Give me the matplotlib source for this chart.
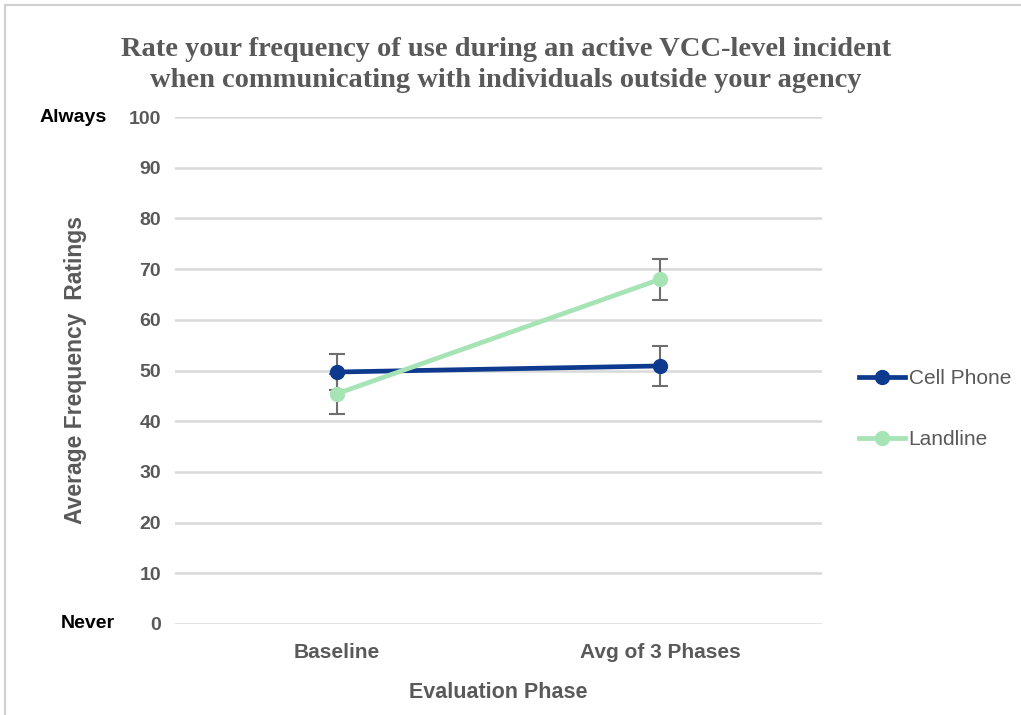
import matplotlib.pyplot as plt
from matplotlib.patches import Rectangle

phases = ['Baseline', 'Avg of 3 Phases']
cell = [49.7, 50.9]
cell_err = [3.6, 4.0]
land = [45.4, 68.0]
land_err = [3.9, 4.0]
yticks = [0, 10, 20, 30, 40, 50, 60, 70, 80, 90, 100]

narrow = ['Liberation Sans Narrow', 'Liberation Sans', 'DejaVu Sans']
gray = '#595959'

fig = plt.figure(figsize=(10.21, 7.15), dpi=100)
ax = fig.add_axes([175 / 1021, 1 - 624 / 715, 647 / 1021, 507 / 715])

x = list(range(len(phases)))
eb1 = ax.errorbar(x, cell, yerr=cell_err, color='#0d3a8e', lw=3.4, marker='o', ms=10,
                  ecolor='#6e6e6e', elinewidth=1.5, capsize=6, capthick=1.5,
                  label='Cell Phone', zorder=3)
eb2 = ax.errorbar(x, land, yerr=land_err, color='#a6e3b5', lw=3.4, marker='o', ms=10,
                  ecolor='#6e6e6e', elinewidth=1.5, capsize=6, capthick=1.5,
                  label='Landline', zorder=3)

ax.set_xlim(-0.5, 1.5)
ax.set_ylim(0, 100)
ax.set_yticks(yticks)
ax.set_yticklabels([str(v) for v in yticks], family=narrow, fontweight='bold',
                   fontsize=14, color=gray)
ax.set_xticks(x)
ax.set_xticklabels(phases, family=narrow, fontweight='bold', fontsize=15, color=gray)
ax.tick_params(length=0, pad=10)
ax.tick_params(axis='x', pad=14)
ax.grid(axis='y', color='#d9d9d9', lw=1.8)
ax.set_axisbelow(True)
for s in ax.spines.values():
    s.set_visible(False)

ax.set_xlabel('Evaluation Phase', family=narrow, fontweight='bold', fontsize=15.5,
              color=gray, labelpad=14)
ax.set_ylabel('Average Frequency  Ratings', family='Liberation Sans', fontweight='bold',
              fontsize=16.5, color=gray, labelpad=30)

fig.text(107 / 1021, 1 - 117 / 715, 'Always', ha='right', va='center', family=narrow,
         fontweight='bold', fontsize=14, color='black')
fig.text(115 / 1021, 1 - 624 / 715, 'Never', ha='right', va='center', family=narrow,
         fontweight='bold', fontsize=14, color='black')

fig.text(506 / 1021, 1 - 65 / 715,
         'Rate your frequency of use during an active VCC-level incident\n'
         'when communicating with individuals outside your agency',
         ha='center', va='center', family='Liberation Serif', fontweight='bold',
         fontsize=20.5, color=gray, linespacing=1.3)

leg = ax.legend([eb1[0], eb2[0]], ['Cell Phone', 'Landline'],
                loc='center left', bbox_to_anchor=(840 / 1021, 1 - 409 / 715),
                bbox_transform=fig.transFigure, frameon=False, fontsize=15,
                labelspacing=2.0, handlelength=2.2, handletextpad=0.2)
for t in leg.get_texts():
    t.set_color(gray)
    t.set_family('Liberation Sans')

fig.patches.append(Rectangle((5 / 1021, -0.1), 1.2, 1.1 - 5 / 715,
                             transform=fig.transFigure, fill=False,
                             edgecolor='#d0d0d0', lw=1.5))

fig.savefig('out.png', dpi=100)
